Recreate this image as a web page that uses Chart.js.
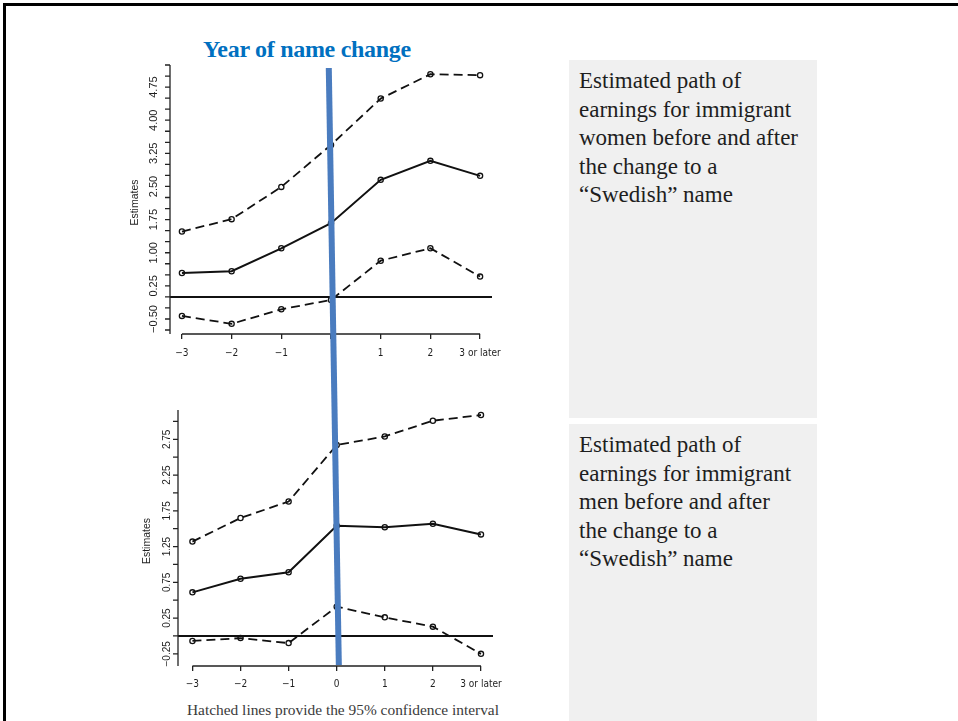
<!DOCTYPE html>
<html>
<head>
<meta charset="utf-8">
<script src="https://cdn.jsdelivr.net/npm/chart.js@4"></script>
<style>
  html, body { margin: 0; padding: 0; background: #fff; }
  body { width: 958px; height: 721px; position: relative; overflow: hidden; }
  .frame { position: absolute; left: 3px; top: 3px; width: 1000px; height: 800px;
           border-top: 3px solid #000; border-left: 3px solid #000; }
  .title { position: absolute; left: 203px; top: 36px; line-height: 24px; white-space: nowrap;
           font: bold 24px "Liberation Serif", "Times New Roman", serif; color: #0070c0;
           letter-spacing: -0.3px; }
  .panel { position: absolute; left: 569px; width: 248px; background: #f0f0f0;
           box-sizing: border-box; padding: 7px 0 0 10px; white-space: nowrap;
           font: 23px/28.5px "Liberation Serif", "Times New Roman", serif; color: #1e1e1e; }
  .note { position: absolute; left: 187px; top: 701px; line-height: 18px; white-space: nowrap;
          font: 15.4px "Liberation Serif", "Times New Roman", serif; color: #3a3a3a; }
  canvas { position: absolute; }
  #overlay { left: 0; top: 0; pointer-events: none; }
</style>
</head>
<body>
<div class="frame"></div>
<div class="title">Year of name change</div>
<div class="panel" style="top:60px;height:358px;">Estimated path of<br>earnings for immigrant<br>women before and after<br>the change to a<br>“Swedish” name</div>
<div class="panel" style="top:424px;height:297px;">Estimated path of<br>earnings for immigrant<br>men before and after<br>the change to a<br>“Swedish” name</div>
<div class="note">Hatched lines provide the 95% confidence interval</div>

<canvas id="womenChart" width="420" height="310" style="left:100px;top:55px;"></canvas>
<canvas id="menChart" width="420" height="300" style="left:100px;top:400px;"></canvas>
<canvas id="overlay" width="958" height="721"></canvas>

<script>
// ---- data ----
const years = [-3, -2, -1, 0, 1, 2, 3];
const womenYearLabels = ['−3', '−2', '−1', '', '1', '2', '3 or later'];
const menYearLabels = ['−3', '−2', '−1', '0', '1', '2', '3 or later'];

const womenEst   = [0.54, 0.58, 1.10, 1.67, 2.65, 3.08, 2.74];
const womenUpper = [1.48, 1.76, 2.49, 3.44, 4.49, 5.04, 5.02];
const womenLower = [-0.43, -0.61, -0.28, -0.07, 0.82, 1.10, 0.46];

const menEst   = [0.61, 0.80, 0.89, 1.54, 1.52, 1.57, 1.42];
const menUpper = [1.32, 1.65, 1.88, 2.67, 2.79, 3.01, 3.09];
const menLower = [-0.07, -0.03, -0.10, 0.41, 0.26, 0.13, -0.25];

const womenYLabels = [-0.5, 0.25, 1.0, 1.75, 2.5, 3.25, 4.0, 4.75];
const menYLabels = [-0.25, 0.25, 0.75, 1.25, 1.75, 2.25, 2.75];

const zeroLine = 0;
const nameChangeYear = 0;

// ---- R-style axes drawn from the chart's own scales ----
const fmt = v => v.toFixed(2).replace('-', '−');

const rAxes = {
    id: 'rAxes',
    beforeDatasetsDraw(chart) {
        const { ctx, chartArea: a, scales: { y } } = chart;
        const y0 = y.getPixelForValue(zeroLine);
        ctx.save();
        ctx.strokeStyle = '#111';
        ctx.lineWidth = 2;
        ctx.beginPath();
        ctx.moveTo(a.left, y0);
        ctx.lineTo(a.right, y0);
        ctx.stroke();
        ctx.restore();
    },
    afterDraw(chart, args, o) {
        const { ctx, chartArea: a, scales: { x, y } } = chart;
        ctx.save();
        ctx.strokeStyle = '#222';
        ctx.lineWidth = 1.3;
        ctx.beginPath();
        // y axis
        ctx.moveTo(a.left, a.top);
        ctx.lineTo(a.left, a.bottom);
        // x axis only across the years
        ctx.moveTo(x.getPixelForValue(years[0]), a.bottom);
        ctx.lineTo(x.getPixelForValue(years[years.length - 1]), a.bottom);
        // minor y ticks
        for (let v = o.tickFrom; v <= o.tickTo + 1e-9; v += o.tickStep) {
            const py = y.getPixelForValue(v);
            ctx.moveTo(a.left - 5, py);
            ctx.lineTo(a.left, py);
        }
        ctx.stroke();

        ctx.fillStyle = '#1e1e1e';
        ctx.textAlign = 'center';
        ctx.textBaseline = 'middle';
        ctx.font = o.tickFont;
        o.labels.forEach(v => {
            ctx.save();
            ctx.translate(a.left - o.labelGap, y.getPixelForValue(v));
            ctx.rotate(-Math.PI / 2);
            ctx.fillText(fmt(v), 0, 0);
            ctx.restore();
        });
        ctx.font = o.titleFont;
        ctx.save();
        ctx.translate(a.left - o.titleGap, (a.top + a.bottom) / 2 + 3);
        ctx.rotate(-Math.PI / 2);
        ctx.fillText('Estimates', 0, 0);
        ctx.restore();
        ctx.restore();
    }
};

function band(data, dashed) {
    return {
        data: years.map((yr, i) => ({ x: yr, y: data[i] })),
        borderColor: '#111',
        borderWidth: dashed ? 1.8 : 2,
        borderDash: dashed ? [9, 5] : [],
        tension: 0,
        pointRadius: 2.6,
        pointBorderWidth: 1.3,
        pointBorderColor: '#111',
        pointBackgroundColor: 'rgba(0,0,0,0)'
    };
}

function makeChart(id, est, upper, lower, opts) {
    return new Chart(document.getElementById(id), {
        type: 'line',
        data: { datasets: [band(upper, true), band(est, false), band(lower, true)] },
        options: {
            responsive: false,
            animation: false,
            devicePixelRatio: 1,
            layout: { padding: opts.padding },
            plugins: {
                legend: { display: false },
                tooltip: { enabled: false },
                rAxes: opts.axes
            },
            scales: {
                x: {
                    type: 'linear',
                    min: opts.xMin,
                    max: opts.xMax,
                    afterBuildTicks: s => { s.ticks = years.map(v => ({ value: v })); },
                    afterFit: s => { s.height = opts.xHeight; },
                    border: { display: false },
                    grid: { drawOnChartArea: false, drawTicks: true, tickLength: 5, color: '#222', lineWidth: 1.3 },
                    ticks: {
                        autoSkip: false,
                        maxRotation: 0,
                        padding: opts.xPad,
                        color: '#1e1e1e',
                        font: { family: '"Liberation Sans Narrow", "DejaVu Sans Condensed", Arial, sans-serif', size: 10 },
                        callback: v => opts.xLabels[years.indexOf(v)]
                    }
                },
                y: { type: 'linear', display: false, min: opts.yMin, max: opts.yMax }
            }
        },
        plugins: [rAxes]
    });
}

const womenChart = makeChart('womenChart', womenEst, womenUpper, womenLower, {
    padding: { left: 70, top: 10, right: 28, bottom: 0 },
    xMin: -3.24, xMax: 3.24, yMin: -0.84, yMax: 5.25,
    xHeight: 31, xPad: 8, xLabels: womenYearLabels,
    axes: { tickFrom: -0.75, tickTo: 5.25, tickStep: 0.25, labels: womenYLabels,
            labelGap: 16, titleGap: 35, tickFont: '11px "Liberation Sans", Arial, sans-serif',
            titleFont: '10.5px "Liberation Sans", Arial, sans-serif' }
});

const menChart = makeChart('menChart', menEst, menUpper, menLower, {
    padding: { left: 78, top: 10, right: 27, bottom: 0 },
    xMin: -3.3, xMax: 3.25, yMin: -0.42, yMax: 3.16,
    xHeight: 34, xPad: 7, xLabels: menYearLabels,
    axes: { tickFrom: -0.25, tickTo: 3.0, tickStep: 0.25, labels: menYLabels,
            labelGap: 11, titleGap: 31, tickFont: '10px "Liberation Sans", Arial, sans-serif',
            titleFont: '10.5px "Liberation Sans", Arial, sans-serif' }
});

// ---- blue "year of name change" marker joining x = 0 on both charts ----
function drawMarker() {
    const pt = (chart, el) => ({
        x: el.offsetLeft + chart.scales.x.getPixelForValue(nameChangeYear),
        y: el.offsetTop + (chart.chartArea.top + chart.chartArea.bottom) / 2
    });
    const p1 = pt(womenChart, womenChart.canvas);
    const p2 = pt(menChart, menChart.canvas);
    const slope = (p2.x - p1.x) / (p2.y - p1.y);
    const yTop = 68, yBot = 665;
    const ctx = document.getElementById('overlay').getContext('2d');
    ctx.strokeStyle = '#4a7cbf';
    ctx.lineWidth = 6;
    ctx.lineCap = 'butt';
    ctx.beginPath();
    ctx.moveTo(p1.x + (yTop - p1.y) * slope, yTop);
    ctx.lineTo(p1.x + (yBot - p1.y) * slope, yBot);
    ctx.stroke();
}
drawMarker();
</script>
</body>
</html>
